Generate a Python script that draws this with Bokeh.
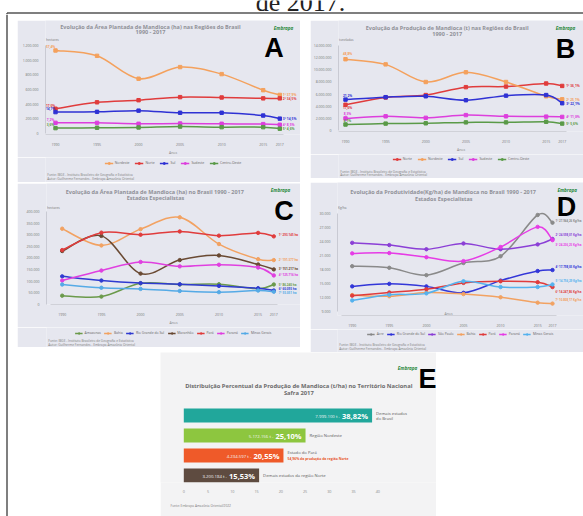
from bokeh.plotting import figure
from bokeh.layouts import column, row
from bokeh.models import Range1d, FixedTicker, Legend, LegendItem, Title, Spacer, ColumnDataSource
from bokeh.core.properties import value
from bokeh.embed import file_html
from bokeh.resources import INLINE

# ---------------- data ----------------
years = [1990, 1995, 2000, 2005, 2010, 2015, 2017]

# A - planted area (ha) by region
a_regions = ["Nordeste", "Norte", "Sul", "Sudeste", "Centro-Oeste"]
a_nordeste = [1133000, 1060000, 747000, 906000, 810000, 590000, 525000]
a_norte = [336000, 424000, 453000, 495000, 490000, 478000, 478000]
a_sul = [290000, 294000, 310000, 281000, 281000, 243000, 201000]
a_sudeste = [143000, 143000, 130000, 134000, 130000, 126000, 117000]
a_centro_oeste = [71000, 76000, 80000, 92000, 84000, 84000, 63000]
a_start_labels = ["57,4%", "17,0%", "14,7%", "7,2%", "3,6%"]
a_end_labels = ["1º 37,9%", "2º 34,5%", "3º 14,5%", "4º 8,5%", "5º 4,6%"]
a_yticks = [0, 200000, 400000, 600000, 800000, 1000000, 1200000]

# B - production (t) by region
b_regions = ["Norte", "Nordeste", "Sul", "Sudeste", "Centro-Oeste"]
b_norte = [4250000, 5450000, 5850000, 7150000, 7250000, 7750000, 7350000]
b_nordeste = [11750000, 10900000, 8000000, 9600000, 8000000, 5650000, 5150000]
b_sul = [5100000, 5500000, 5650000, 5000000, 5750000, 5850000, 4500000]
b_sudeste = [2000000, 2350000, 2100000, 2550000, 2350000, 2300000, 2250000]
b_centro_oeste = [1000000, 1150000, 1200000, 1350000, 1350000, 1450000, 1150000]
b_start_labels = ["17,6%", "48,8%", "21,2%", "8,3%", "4,1%"]
b_end_labels = ["1º 36,1%", "2º 25,1%", "3º 22,1%", "4º 11,0%", "5º 5,6%"]
b_yticks = [0, 2000000, 4000000, 6000000, 8000000, 10000000, 12000000, 14000000]

# C - planted area (ha), specialist states
c_states = ["Amazonas", "Bahia", "Rio Grande do Sul", "Maranhão", "Pará", "Paraná", "Minas Gerais"]
c_amazonas = [38000, 34000, 91000, 86000, 87000, 68000, 86000]
c_bahia = [326000, 254000, 324000, 375000, 260000, 195000, 191000]
c_rio_grande_do_sul = [121000, 103000, 92000, 87000, 80000, 70000, 60000]
c_maranhao = [230000, 295000, 133000, 191000, 211000, 172000, 151000]
c_para = [234000, 309000, 300000, 314000, 296000, 308000, 293000]
c_parana = [103000, 146000, 183000, 164000, 171000, 159000, 125000]
c_minas_gerais = [86000, 72000, 67000, 58000, 53000, 60000, 55000]
c_end_labels = ["5º 86.240 ha", "2º 191.377 ha", "6º 60.093 ha", "3º 151.217 ha",
                "1º 293.145 ha", "4º 125.716 ha", "7º 55.051 ha"]
c_yticks = [0, 50000, 100000, 150000, 200000, 250000, 300000, 350000, 400000]

# D - productivity (Kg/ha), specialist states
d_states = ["Acre", "Rio Grande do Sul", "São Paulo", "Bahia", "Pará", "Paraná", "Minas Gerais"]
d_acre = [18690, 18350, 16780, 19370, 20800, 29600, 27960]
d_rio_grande_do_sul = [14390, 14930, 14390, 13020, 15620, 17660, 17870]
d_sao_paulo = [23670, 23190, 22300, 23530, 22300, 23330, 24490]
d_bahia = [12550, 12280, 13090, 12750, 12070, 10920, 10720]
d_para = [12410, 13090, 13770, 15130, 15480, 15280, 14250]
d_parana = [21420, 21490, 20600, 19780, 22780, 27070, 24240]
d_minas_gerais = [11390, 12620, 12900, 15480, 14250, 14250, 14800]
d_end_labels = ["1º 27.944,26 Kg/ha", "4º 17.798,05 Kg/ha", "2º 24.598,01 Kg/ha",
                "7º 10.808,17 Kg/ha", "6º 14.247,86 Kg/ha", "3º 24.236,25 Kg/ha",
                "5º 14.756,29 Kg/ha"]
d_yticks = [9000, 12000, 15000, 18000, 21000, 24000, 27000, 30000]

# E - share of production, 2017
e_groups = ["Demais estados do Brasil", "Região Nordeste", "Estado do Pará",
            "Demais estados da região Norte"]
e_percent = [38.82, 25.10, 20.55, 15.53]
e_tonnes = [7999100, 5172156, 4234597, 3200184]
e_label_line1 = ["Demais estados", "Região Nordeste", "Estado do Pará", "Demais estados da região Norte"]
e_label_line2 = ["do Brasil", "", "54,96% da produção da região Norte", ""]
e_xticks = [0, 5, 10, 15, 20, 25, 30, 35, 40]

# ---------------- styles ----------------
FONT = "Open Sans"
PANEL_BG = "#e6e7ef"
NAN = float("nan")
SOURCE_LINES = ["Fonte: IBGE - Instituto Brasileiro de Geografia e Estatística",
                "Autor: Guilherme Fernandes - Embrapa Amazônia Oriental"]
A_COLORS = ["#f4a15d", "#e03c3c", "#2f32d4", "#dd3fdd", "#5a9a48"]
B_COLORS = ["#e03c3c", "#f4a15d", "#2f32d4", "#dd3fdd", "#5a9a48"]
C_COLORS = ["#6b9a4b", "#f2a262", "#2f3ad0", "#6a4a33", "#e03c3c", "#e040e0", "#55aae6"]
D_COLORS = ["#8a8a8a", "#3236d8", "#8b3fd6", "#f2a262", "#e03c3c", "#e63ce6", "#55b2ee"]
E_COLORS = ["#21a79b", "#8dc63f", "#ef5a29", "#5e4b40"]


def br_int(v):
    return f"{int(v):,}".replace(",", ".")


def bezier_cols(xs, ys):
    n = len(xs)
    c = dict(x0=[], y0=[], x1=[], y1=[], cx0=[], cy0=[], cx1=[], cy1=[])
    for i in range(n - 1):
        ip = max(i - 1, 0)
        i2 = min(i + 2, n - 1)
        c["x0"].append(xs[i]); c["y0"].append(ys[i])
        c["x1"].append(xs[i + 1]); c["y1"].append(ys[i + 1])
        c["cx0"].append(xs[i] + (xs[i + 1] - xs[ip]) / 6.0)
        c["cy0"].append(ys[i] + (ys[i + 1] - ys[ip]) / 6.0)
        c["cx1"].append(xs[i + 1] - (xs[i2] - xs[i]) / 6.0)
        c["cy1"].append(ys[i + 1] - (ys[i2] - ys[i]) / 6.0)
    return c


def line_panel(W, H, L, Hf, Hc, xref, yref, yticks, names, series, colors, marker,
               titles, title_xy, letter, letter_xy, logo_xy, ylabel, ylabel_y,
               end_labels, end_dx, end_dy, end_font,
               start_labels=None, start_dx=0, start_dy=None,
               legend_margin=3, legend_spacing=5, legend_glyph=9, src_y=(15, 19),
               anos_in_frame=None):
    (xa, pa), (xb, pb) = xref
    sx = (pb - pa) / (xb - xa)
    x0 = xa - (pa - L) / sx
    x1 = xa + (W - pa) / sx
    (va, qa), (vb, qb) = yref
    sy = (qa - qb) / (vb - va)
    y0 = va - (Hf - qa) / sy
    y1 = va + qa / sy

    def X(px):
        return x0 + (px - L) / sx

    def Y(py):
        return y0 + (Hf - py) / sy

    p = figure(width=W, height=Hc, x_range=Range1d(x0, x1), y_range=Range1d(y0, y1),
               min_border_left=L, min_border_right=0, min_border_top=0,
               min_border_bottom=Hc - Hf, toolbar_location=None, output_backend="svg",
               title=None, background_fill_color=PANEL_BG, border_fill_color=PANEL_BG,
               outline_line_color=None)
    p.grid.visible = False

    xax = p.xaxis[0]
    xax.ticker = FixedTicker(ticks=years)
    xax.major_label_overrides = {y: str(y) for y in years}
    xax.bounds = (years[0] - 1.5, years[-1] + 0.5)
    xax.axis_line_color = "#d0d1d8"
    xax.major_tick_line_color = None
    xax.minor_tick_line_color = None
    xax.major_label_text_font_size = "3.5px"
    xax.major_label_text_color = "#777777"
    xax.major_label_text_font = FONT
    xax.major_label_standoff = 2
    if anos_in_frame is None:
        xax.axis_label = "Anos"
        xax.axis_label_text_font_size = "3.5px"
        xax.axis_label_text_font_style = "normal"
        xax.axis_label_text_color = "#888888"
        xax.axis_label_text_font = FONT
        xax.axis_label_standoff = 1
    else:
        p.text(x=[X(anos_in_frame[0])], y=[Y(anos_in_frame[1])], text=["Anos"],
               text_font=value(FONT), text_font_size="3.5px", text_color="#888888",
               text_align="center", text_baseline="middle")

    yax = p.yaxis[0]
    yax.ticker = FixedTicker(ticks=yticks)
    yax.major_label_overrides = {t: br_int(t) for t in yticks}
    yax.bounds = (yticks[0], yticks[-1])
    yax.axis_line_color = "#c9cad3"
    yax.major_tick_line_color = None
    yax.minor_tick_line_color = None
    yax.major_label_text_font_size = "3.5px"
    yax.major_label_text_color = "#777777"
    yax.major_label_text_font = FONT
    yax.major_label_standoff = 1

    for name, vals, col in zip(names, series, colors):
        src = ColumnDataSource(bezier_cols(years, vals))
        p.bezier(x0="x0", y0="y0", x1="x1", y1="y1", cx0="cx0", cy0="cy0",
                 cx1="cx1", cy1="cy1", source=src, line_color=col, line_width=1.5)
        p.scatter(x=years, y=vals, marker=marker, size=3.4, fill_color=col, line_color=col)

    n = len(series)
    p.text(x=[years[-1]] * n, y=[v[-1] for v in series], text=end_labels,
           text_color=colors, x_offset=end_dx, y_offset=end_dy,
           text_font=value(FONT), text_font_size=end_font, text_font_style="bold",
           text_align="left", text_baseline="middle")
    if start_labels is not None:
        p.text(x=[years[0]] * n, y=[v[0] for v in series], text=start_labels,
               text_color=colors, x_offset=start_dx, y_offset=start_dy,
               text_font=value(FONT), text_font_size="3.2px", text_font_style="bold",
               text_align="center", text_baseline="middle")

    tx, ty1, ty2 = title_xy
    p.text(x=[X(tx), X(tx)], y=[Y(ty1), Y(ty2)], text=titles,
           text_font=value(FONT), text_font_size="5.5px", text_font_style="bold",
           text_color="#909198", text_align="center", text_baseline="middle")
    p.text(x=[X(letter_xy[0])], y=[Y(letter_xy[1])], text=[letter],
           text_font=value("Liberation Sans"), text_font_style="bold",
           text_font_size="27px", text_color="black", text_align="center",
           text_baseline="middle")
    p.text(x=[X(logo_xy[0])], y=[Y(logo_xy[1])], text=["Embrapa"],
           text_font=value(FONT), text_font_style="bold italic", text_font_size="4.6px",
           text_color="#2b8a3e", text_align="center", text_baseline="middle")
    p.text(x=[X(L + 0.5)], y=[Y(ylabel_y)], text=[ylabel],
           text_font=value(FONT), text_font_size="3.2px", text_color="#777777",
           text_align="left", text_baseline="middle")

    # footer: legend + source lines
    HF = H - Hc
    foot = figure(width=W, height=HF, x_range=Range1d(0, W), y_range=Range1d(HF, 0),
                  min_border=0, toolbar_location=None, output_backend="svg", title=None,
                  x_axis_type=None, y_axis_type=None, background_fill_color=PANEL_BG,
                  border_fill_color=PANEL_BG, outline_line_color=None)
    foot.grid.visible = False
    items = []
    for name, col in zip(names, colors):
        lr = foot.line(x=[NAN], y=[NAN], line_color=col, line_width=1.3)
        sr = foot.scatter(x=[NAN], y=[NAN], marker=marker, size=3, fill_color=col,
                          line_color=col)
        items.append(LegendItem(label=name, renderers=[lr, sr]))
    leg = Legend(items=items, orientation="horizontal", location="top",
                 label_text_font_size="3.4px", label_text_font=FONT,
                 label_text_color="#666666", glyph_width=legend_glyph, glyph_height=4,
                 label_height=4, label_width=1, label_standoff=2,
                 spacing=legend_spacing, padding=0, margin=legend_margin,
                 border_line_color=None, background_fill_alpha=0)
    foot.add_layout(leg)
    foot.text(x=[2, 2], y=list(src_y), text=SOURCE_LINES, text_font=value(FONT),
              text_font_size="3.2px", text_color="#7d7d7d", text_align="left",
              text_baseline="middle")
    return column(p, foot)


# ---------------- panels ----------------
panelA = line_panel(
    W=283, H=162, L=28, Hf=124, Hc=137, xref=((1990, 38), (2017, 262.3)),
    yref=((0, 122.7), (1200000, 27.3)), yticks=a_yticks, names=a_regions,
    series=[a_nordeste, a_norte, a_sul, a_sudeste, a_centro_oeste], colors=A_COLORS,
    marker="square",
    titles=["Evolução da Área Plantada de Mandioca (ha) nas Regiões do Brasil", "1990 - 2017"],
    title_xy=(133, 7, 13), letter="A", letter_xy=(256.5, 30), logo_xy=(266, 8),
    ylabel="hectares", ylabel_y=21.7, end_labels=a_end_labels, end_dx=3,
    end_dy=[0, 0, 0, 0, 0], end_font="3.3px", start_labels=a_start_labels,
    start_dx=-5, start_dy=[-3, -3, -3, -3, -3], legend_margin=3, src_y=(17, 21))

panelB = line_panel(
    W=273, H=158, L=28, Hf=121, Hc=134, xref=((1990, 35), (2017, 251.7)),
    yref=((0, 120), (14000000, 27.3)), yticks=b_yticks, names=b_regions,
    series=[b_norte, b_nordeste, b_sul, b_sudeste, b_centro_oeste], colors=B_COLORS,
    marker="square",
    titles=["Evolução da Produção de Mandioca (t) nas Regiões do Brasil", "1990 - 2017"],
    title_xy=(136.7, 8.3, 14.3), letter="B", letter_xy=(255, 31), logo_xy=(255, 8.3),
    ylabel="toneladas", ylabel_y=21.7, end_labels=b_end_labels, end_dx=4,
    end_dy=[0, 0, 0, 0, 0], end_font="3.3px", start_labels=b_start_labels,
    start_dx=2, start_dy=[3, -5, -4, -4, -3.5], legend_margin=2, src_y=(17, 20.3))

panelC = line_panel(
    W=283, H=164, L=29, Hf=131, Hc=144, xref=((1990, 44.7), (2017, 256.3)),
    yref=((0, 131), (400000, 30.3)), yticks=c_yticks, names=c_states,
    series=[c_amazonas, c_bahia, c_rio_grande_do_sul, c_maranhao, c_para, c_parana,
            c_minas_gerais], colors=C_COLORS, marker="circle",
    titles=["Evolução da Área Plantada de Mandioca (ha) no Brasil  1990 - 2017",
            "Estados Especialistas"],
    title_xy=(138, 9.3, 16), letter="C", letter_xy=(266.5, 29.5), logo_xy=(263, 7),
    ylabel="hectares", ylabel_y=26, end_labels=c_end_labels, end_dx=5,
    end_dy=[0, 0, -2, 0, -1, 0, 1.5], end_font="3px", legend_margin=3,
    legend_spacing=3, legend_glyph=8, src_y=(13.7, 17.7))

panelD = line_panel(
    W=273, H=170, L=27, Hf=139, Hc=147, xref=((1990, 41.7), (2017, 242)),
    yref=((9000, 135), (30000, 32)), yticks=d_yticks, names=d_states,
    series=[d_acre, d_rio_grande_do_sul, d_sao_paulo, d_bahia, d_para, d_parana,
            d_minas_gerais], colors=D_COLORS, marker="circle",
    titles=["Evolução da Produtividade(Kg/ha) de Mandioca no Brasil  1990 - 2017",
            "Estados Especialistas"],
    title_xy=(133.3, 10.3, 17), letter="D", letter_xy=(256, 26), logo_xy=(256.7, 8),
    ylabel="Kg/ha", ylabel_y=27, end_labels=d_end_labels, end_dx=3,
    end_dy=[-2, -3, -4, -4, 5, 5, -3.5], end_font="2.9px", legend_margin=2,
    legend_spacing=3, legend_glyph=8, src_y=(15, 19.3), anos_in_frame=(138, 136.5))

# ---- E: horizontal bars ----
EW, EH, EHf = 276, 164, 130
ex_sx = 4.85
ex0 = 0 - 23.3 / ex_sx
ex1 = 0 + (EW - 23.3) / ex_sx
ey_sy = 20.0
e_pos = [len(e_groups) - 1 - i for i in range(len(e_groups))]
ey0 = 0 - (EHf - 123) / ey_sy
ey1 = 0 + 123 / ey_sy


def EX(px):
    return ex0 + px / ex_sx


def EY(py):
    return ey0 + (EHf - py) / ey_sy


figE = figure(width=EW, height=EH, x_range=Range1d(ex0, ex1), y_range=Range1d(ey0, ey1),
              min_border_left=0, min_border_right=0, min_border_top=0,
              min_border_bottom=EH - EHf, toolbar_location=None, output_backend="svg",
              title=None, y_axis_type=None, background_fill_color="#f3f3f4",
              border_fill_color="#f3f3f4", outline_line_color=None)
figE.grid.visible = False
figE.hbar(y=e_pos, left=0, right=e_percent, height=0.7, fill_color=E_COLORS, line_color=None)
exa = figE.xaxis[0]
exa.ticker = FixedTicker(ticks=e_xticks)
exa.axis_line_color = None
exa.major_tick_line_color = None
exa.minor_tick_line_color = None
exa.major_label_text_font_size = "3.8px"
exa.major_label_text_color = "#8a8a8a"
exa.major_label_text_font = FONT
exa.major_label_standoff = 1

pct_text = [f"{v:.2f}%".replace(".", ",") for v in e_percent]
ton_text = [br_int(t) + " t - " for t in e_tonnes]
figE.text(x=e_percent, y=e_pos, text=pct_text, x_offset=-4, text_font=value(FONT),
          text_font_size="7.5px", text_font_style="bold", text_color="white",
          text_align="right", text_baseline="middle")
figE.text(x=e_percent, y=e_pos, text=ton_text, x_offset=-31, text_font=value(FONT),
          text_font_size="4.3px", text_color="#f4f4f4", text_align="right",
          text_baseline="middle")
figE.text(x=e_percent, y=e_pos, text=e_label_line1, x_offset=4,
          y_offset=[-2.4, 0, -2.6, 0], text_font=value(FONT), text_font_size="4.2px",
          text_color="#5a5a5a", text_align="left", text_baseline="middle")
figE.text(x=e_percent, y=e_pos, text=e_label_line2, x_offset=4,
          y_offset=[2.6, 0, 3.2, 0], text_font=value(FONT),
          text_font_size=["4.2px", "4.2px", "3.4px", "4.2px"],
          text_font_style=["normal", "normal", "bold", "normal"],
          text_color=["#5a5a5a", "#5a5a5a", "#e8542b", "#5a5a5a"],
          text_align="left", text_baseline="middle")
figE.text(x=[EX(138.3), EX(138.3)], y=[EY(33), EY(40)],
          text=["Distribuição Percentual da Produção de Mandioca (t/ha) no Território Nacional",
                "Safra 2017"],
          text_font=value(FONT), text_font_size="5.8px", text_font_style="bold",
          text_color="#6a6a6a", text_align="center", text_baseline="middle")
figE.text(x=[EX(267)], y=[EY(26)], text=["E"], text_font=value("Liberation Sans"),
          text_font_style="bold", text_font_size="27px", text_color="black",
          text_align="center", text_baseline="middle")
figE.text(x=[EX(247)], y=[EY(15)], text=["Embrapa"], text_font=value(FONT),
          text_font_style="bold italic", text_font_size="4.6px", text_color="#2b8a3e",
          text_align="center", text_baseline="middle")
figE.add_layout(Title(text="Fonte: Embrapa Amazônia Oriental/2022", align="left", offset=10,
                      text_font_size="3.2px", text_font=FONT, text_font_style="normal",
                      text_color="#7d7d7d", standoff=12), "below")

# ---- page header and border ----
header = figure(width=583, height=14, x_range=Range1d(0, 583), y_range=Range1d(14, 0),
                min_border=0, toolbar_location=None, output_backend="svg", title=None,
                x_axis_type=None, y_axis_type=None, background_fill_color="white",
                border_fill_color="white", outline_line_color=None)
header.grid.visible = False
header.text(x=[300], y=[2], text=["de 2017."], text_font=value("Liberation Serif"),
            text_font_size="26px", text_color="#222222", text_align="center",
            text_baseline="alphabetic")
header.segment(x0=[6.5, 6.5], y0=[12.5, 12.5], x1=[583, 6.5], y1=[12.5, 14],
               line_color="#555555", line_width=1.5)

strip = figure(width=17, height=502, x_range=Range1d(0, 17), y_range=Range1d(502, 0),
               min_border=0, toolbar_location=None, output_backend="svg", title=None,
               x_axis_type=None, y_axis_type=None, background_fill_color="white",
               border_fill_color="white", outline_line_color=None)
strip.grid.visible = False
strip.segment(x0=[6.5], y0=[0], x1=[6.5], y1=[502], line_color="#555555", line_width=1.5)

left_col = column(Spacer(width=283, height=6), panelA, Spacer(width=283, height=1), panelC)
right_col = column(Spacer(width=273, height=6), panelB, Spacer(width=273, height=4), panelD)
top = row(left_col, Spacer(width=10, height=338), right_col)
e_row = row(Spacer(width=143, height=164), figE)
content = column(top, e_row)
root = column(header, row(strip, content))

open("out.html", "w").write(file_html(root, INLINE))
